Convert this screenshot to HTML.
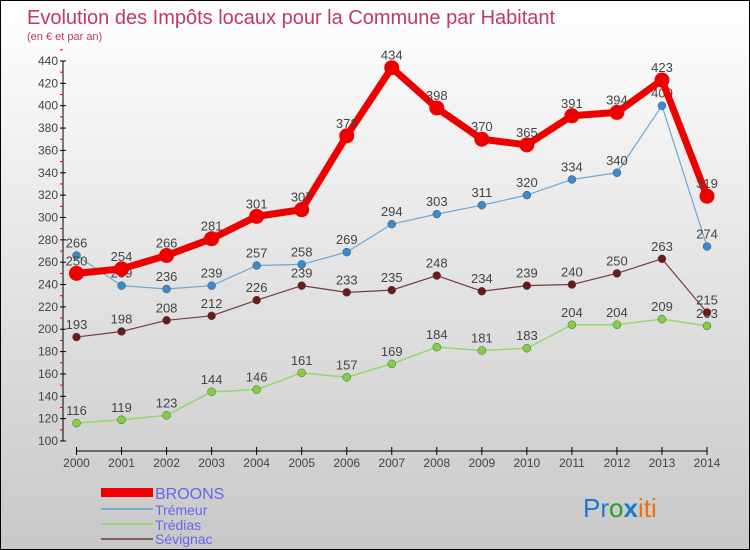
<!DOCTYPE html>
<html><head><meta charset="utf-8"><style>
body{margin:0}
#c{width:748px;height:548px;border:1px solid #000;background:linear-gradient(#fff,#c8c8c8);position:relative;font-family:"Liberation Sans",sans-serif;overflow:hidden}
</style></head><body>
<div id="c">
<svg id="s" width="748" height="548" style="position:absolute;left:0;top:0">
<text x="26" y="23" font-size="20" fill="#c0396a">Evolution des Impôts locaux pour la Commune par Habitant</text>
<text x="26" y="39" font-size="11" fill="#c0396a">(en € et par an)</text>
<g id="axes"></g><g id="series"></g>
<g>
<rect x="100" y="487" width="52" height="9" fill="#e00"/>
<text x="154" y="498" font-size="16" fill="#6666ee">BROONS</text>
<rect x="100" y="507" width="52" height="2" fill="#7aa8d0"/>
<text x="154" y="514" font-size="14" fill="#6666ee">Trémeur</text>
<rect x="100" y="522" width="52" height="2" fill="#90d870"/>
<text x="154" y="529" font-size="14" fill="#6666ee">Trédias</text>
<rect x="100" y="537" width="52" height="2" fill="#8a5a5a"/>
<text x="154" y="543" font-size="14" fill="#6666ee">Sévignac</text>
</g>
<text x="582" y="516" font-size="26"><tspan fill="#1a7ad0">Pr</tspan><tspan fill="#2aa02a">o</tspan><tspan fill="#1a7ad0" font-weight="bold">x</tspan><tspan fill="#f07010">iti</tspan></text>
</svg>
</div>
<script>
const years=[2000,2001,2002,2003,2004,2005,2006,2007,2008,2009,2010,2011,2012,2013,2014];
const broons=[250,254,266,281,301,307,373,434,398,370,365,391,394,423,319];
const tremeur=[266,239,236,239,257,258,269,294,303,311,320,334,340,400,274];
const tredias=[116,119,123,144,146,161,157,169,184,181,183,204,204,209,203];
const sevignac=[193,198,208,212,226,239,233,235,248,234,239,240,250,263,215];
const yTicks=[100,120,140,160,180,200,220,240,260,280,300,320,340,360,380,400,420,440];
const NS="http://www.w3.org/2000/svg";
const X=i=>75.5+i*(706-75.5)/(years.length-1);
const Y=v=>440-(v-100)*380/340;
const ax=document.getElementById('axes'),sg=document.getElementById('series');
function mk(tag,attrs,parent){const e=document.createElementNS(NS,tag);for(const k in attrs)e.setAttribute(k,attrs[k]);parent.appendChild(e);return e;}
let yl=mk('line',{x1:62,y1:Y(440),x2:62,y2:Y(100),stroke:'#000'},ax);


let xl=mk('line',{x1:X(0),y1:450,x2:X(14),y2:450,stroke:'#000'},ax);


yTicks.forEach(v=>{
 mk('line',{x1:59,y1:Y(v),x2:65,y2:Y(v),stroke:'#000'},ax);
 mk('line',{x1:59,y1:Y(v+10),x2:62,y2:Y(v+10),stroke:'#e00'},ax);
 const t=mk('text',{x:57,y:Y(v)+4,'font-size':12,'text-anchor':'end',fill:'#444'},ax);t.textContent=v;
 
 
});
years.forEach((yr,i)=>{
 mk('line',{x1:X(i),y1:446,x2:X(i),y2:454,stroke:'#000'},ax);
 const t=mk('text',{x:X(i),y:466,'font-size':12,'text-anchor':'middle',fill:'#444'},ax);t.textContent=yr;
 
 
});
function series(data,name,color,w,r,fill){
 const g=mk('g',{},sg);
 
 
 const p=mk('polyline',{points:data.map((v,i)=>X(i)+','+Y(v)).join(' '),fill:'none',stroke:color,'stroke-width':w,'stroke-linejoin':'round'},g);
 
 
 data.forEach((v,i)=>{
  const c=mk('circle',{cx:X(i),cy:Y(v),r:r,fill:fill,stroke:r>5?'none':'#555','stroke-width':0.5},g);
  
  
  const t=mk('text',{x:X(i),y:Y(v)-8,'font-size':13,'text-anchor':'middle',fill:'#444'},g);t.textContent=v;
  
  
 });
}
series(tredias,'tredias','#90d870',1.5,4,'#80d040');
series(sevignac,'sevignac','#7a3a3a',1.2,4,'#6a1a1a');
series(tremeur,'tremeur','#6aa8d8',1.2,4,'#3a8ad0');
series(broons,'broons','#ee0000',7,7.5,'#ee0000');
</script>
</body></html>
